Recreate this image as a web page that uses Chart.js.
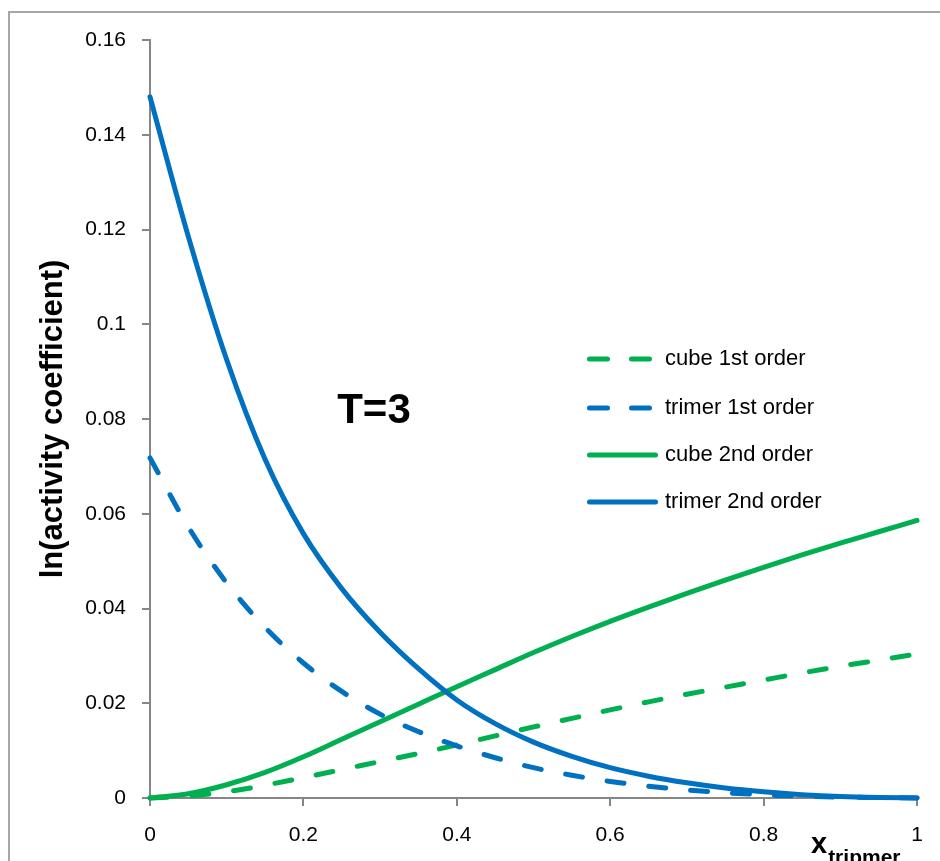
<!DOCTYPE html>
<html>
<head>
<meta charset="utf-8">
<script src="https://cdn.jsdelivr.net/npm/chart.js@4.4.1/dist/chart.umd.min.js"></script>
<style>
  html, body { margin: 0; padding: 0; background: #ffffff; }
  #wrap { width: 940px; height: 861px; position: relative; }
</style>
</head>
<body>
<div id="wrap"><canvas id="c" width="940" height="861"></canvas></div>
<script>
// ---- data ----
const xValues = [0, 0.05, 0.1, 0.15, 0.2, 0.25, 0.3, 0.35, 0.4, 0.45, 0.5,
                 0.55, 0.6, 0.65, 0.7, 0.75, 0.8, 0.85, 0.9, 0.95, 1];

const cube1st = [0, 0.0004, 0.0013, 0.0027, 0.0043, 0.0060, 0.0077, 0.0094, 0.0112, 0.0131, 0.0150,
                 0.0168, 0.0186, 0.0203, 0.0219, 0.0234, 0.0249, 0.0264, 0.0278, 0.0291, 0.0304];

const trimer1st = [0.0718, 0.0572, 0.0454, 0.0360, 0.0285, 0.0225, 0.0177, 0.0140, 0.0110, 0.0085, 0.0064,
                   0.0048, 0.0035, 0.0025, 0.0017, 0.0011, 0.0007, 0.0004, 0.0002, 0.0001, 0];

const cube2nd = [0, 0.0009, 0.0028, 0.0054, 0.0087, 0.0124, 0.0161, 0.0198, 0.0235, 0.0271, 0.0307,
                 0.0341, 0.0373, 0.0403, 0.0432, 0.0460, 0.0487, 0.0513, 0.0538, 0.0562, 0.0586];

const trimer2nd = [0.148, 0.1185, 0.0925, 0.0715, 0.0558, 0.0442, 0.0350, 0.0273, 0.0207, 0.0157, 0.0118,
                   0.0088, 0.0064, 0.0046, 0.0032, 0.0021, 0.0013, 0.0007, 0.0003, 0.0001, 0];

const seriesLabels = ['cube 1st order', 'trimer 1st order', 'cube 2nd order', 'trimer 2nd order'];
const xTickLabels = ['0', '0.2', '0.4', '0.6', '0.8', '1'];
const yTickLabels = ['0', '0.02', '0.04', '0.06', '0.08', '0.1', '0.12', '0.14', '0.16'];
const yTitle = 'ln(activity coefficient)';
const xTitleMain = 'x';
const xTitleSub = 'tripmer';
const annotationText = 'T=3';

// ---- styling ----
const GREEN = '#00B050';
const BLUE = '#0070C0';
const AXIS = '#868686';
const FONT = "'Liberation Sans', Arial, sans-serif";

function pts(ys) { return xValues.map((x, i) => ({ x: x, y: ys[i] })); }

const dashPattern = [17, 25];
const datasets = [
  { label: seriesLabels[0], data: pts(cube1st), borderColor: GREEN, borderDash: dashPattern, order: 4 },
  { label: seriesLabels[1], data: pts(trimer1st), borderColor: BLUE, borderDash: dashPattern, order: 3 },
  { label: seriesLabels[2], data: pts(cube2nd), borderColor: GREEN, borderDash: [], order: 2 },
  { label: seriesLabels[3], data: pts(trimer2nd), borderColor: BLUE, borderDash: [], order: 1 }
].map(d => Object.assign(d, {
  borderWidth: 5,
  pointRadius: 0,
  pointHoverRadius: 0,
  fill: false,
  cubicInterpolationMode: 'monotone',
  borderCapStyle: 'round',
  borderJoinStyle: 'round',
  clip: false
}));

// frame around whole chart
const framePlugin = {
  id: 'frame',
  beforeDraw(chart) {
    const ctx = chart.ctx;
    ctx.save();
    ctx.fillStyle = '#ffffff';
    ctx.fillRect(0, 0, chart.width, chart.height);
    ctx.strokeStyle = '#a6a6a6';
    ctx.lineWidth = 2;
    ctx.strokeRect(9, 12, chart.width + 20, chart.height + 20);
    ctx.restore();
  }
};

// annotation, x-title with subscript and in-plot legend
const extrasPlugin = {
  id: 'extras',
  afterDraw(chart) {
    const ctx = chart.ctx;
    const xs = chart.scales.x, ys = chart.scales.y;
    ctx.save();
    // T=3
    ctx.fillStyle = '#000000';
    ctx.font = 'bold 42px ' + FONT;
    ctx.textAlign = 'center';
    ctx.textBaseline = 'middle';
    ctx.fillText(annotationText, xs.getPixelForValue(0.292), ys.getPixelForValue(0.0815));

    // x title with subscript
    ctx.textAlign = 'left';
    ctx.textBaseline = 'alphabetic';
    ctx.font = 'bold 29px ' + FONT;
    ctx.fillText(xTitleMain, 811, 853);
    const wx = ctx.measureText(xTitleMain).width;
    ctx.font = 'bold 21px ' + FONT;
    ctx.fillText(xTitleSub, 811 + wx + 1, 864);

    // legend
    const rows = [359, 408, 455, 502];
    chart.data.datasets.forEach((ds, i) => {
      const y = rows[i];
      ctx.strokeStyle = ds.borderColor;
      ctx.lineWidth = 5;
      ctx.lineCap = 'round';
      ctx.setLineDash(ds.borderDash && ds.borderDash.length ? [18, 24] : []);
      ctx.beginPath();
      ctx.moveTo(589.5, y);
      ctx.lineTo(655.5, y);
      ctx.stroke();
      ctx.setLineDash([]);
      ctx.fillStyle = '#000000';
      ctx.font = '22px ' + FONT;
      ctx.textBaseline = 'middle';
      ctx.textAlign = 'left';
      ctx.fillText(ds.label, 665, y);
    });
    ctx.restore();
  }
};

new Chart(document.getElementById('c'), {
  type: 'line',
  data: { datasets: datasets },
  options: {
    responsive: false,
    animation: false,
    devicePixelRatio: 1,
    layout: { padding: { left: 0, top: 40, right: 23, bottom: 0 } },
    plugins: {
      legend: { display: false },
      tooltip: { enabled: false },
      title: { display: false }
    },
    scales: {
      x: {
        type: 'linear',
        min: 0, max: 1,
        afterFit(scale) { scale.height = 63; },
        grid: { display: true, drawOnChartArea: false, drawTicks: true, tickLength: 8, color: AXIS, lineWidth: 2 },
        border: { display: true, color: AXIS, width: 2 },
        ticks: {
          stepSize: 0.2,
          padding: 17,
          color: '#000000',
          font: { family: FONT, size: 21 },
          maxRotation: 0,
          callback: (v, i) => xTickLabels[i]
        }
      },
      y: {
        type: 'linear',
        min: 0, max: 0.16,
        afterFit(scale) { scale.width = 150; },
        grid: { display: true, drawOnChartArea: false, drawTicks: true, tickLength: 8, color: AXIS, lineWidth: 2 },
        border: { display: true, color: AXIS, width: 2 },
        ticks: {
          stepSize: 0.02,
          padding: 16,
          color: '#000000',
          font: { family: FONT, size: 21 },
          callback: (v, i) => yTickLabels[i]
        },
        title: {
          display: true,
          text: yTitle,
          color: '#000000',
          font: { family: FONT, size: 31, weight: 'bold' },
          padding: { top: 35, bottom: 0 }
        }
      }
    }
  },
  plugins: [framePlugin, extrasPlugin]
});
</script>
</body>
</html>
